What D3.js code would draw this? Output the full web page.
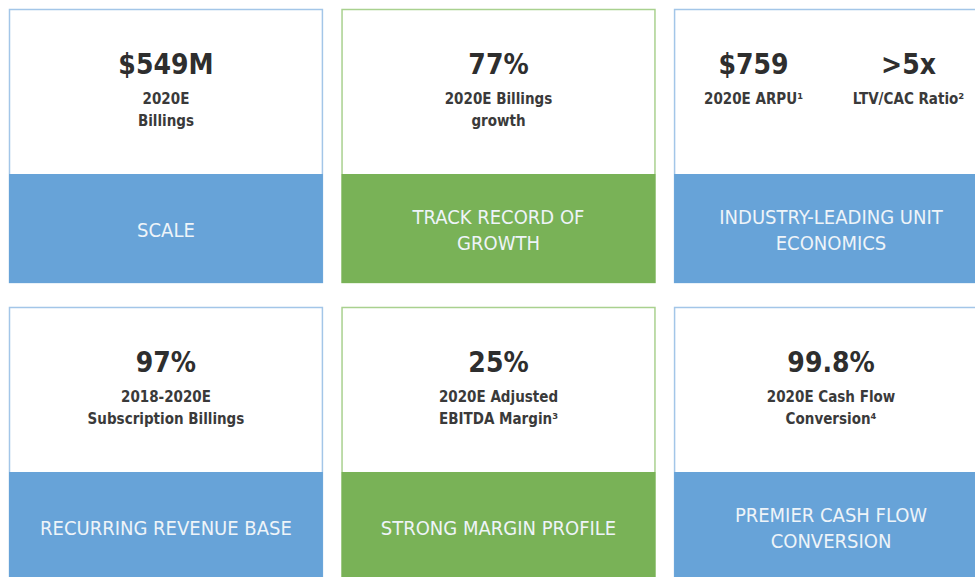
<!DOCTYPE html>
<html>
<head>
<meta charset="utf-8">
<script src="https://cdn.jsdelivr.net/npm/d3@7"></script>
<style>
  html, body { margin: 0; padding: 0; background: #fff; overflow: hidden; }
  svg { display: block; font-family: "DejaVu Sans Condensed", "DejaVu Sans", sans-serif; font-stretch: condensed; }
</style>
</head>
<body>
<div id="chart"></div>
<script>
const width = 975;
const height = 577;

// card contents, left to right, top to bottom
const bandTitles = [
  ['SCALE'],
  ['TRACK RECORD OF', 'GROWTH'],
  ['INDUSTRY-LEADING UNIT', 'ECONOMICS'],
  ['RECURRING REVENUE BASE'],
  ['STRONG MARGIN PROFILE'],
  ['PREMIER CASH FLOW', 'CONVERSION']
];
const bandKinds = ['blue', 'green', 'blue', 'blue', 'green', 'blue'];
const metricValues = [
  ['$549M'],
  ['77%'],
  ['$759', '>5x'],
  ['97%'],
  ['25%'],
  ['99.8%']
];
const metricLabels = [
  [['2020E', 'Billings']],
  [['2020E Billings', 'growth']],
  [['2020E ARPU¹'], ['LTV/CAC Ratio²']],
  [['2018-2020E', 'Subscription Billings']],
  [['2020E Adjusted', 'EBITDA Margin³']],
  [['2020E Cash Flow', 'Conversion⁴']]
];

const palette = {
  blue: {fill: '#67a3d8', border: '#a3c6e8'},
  green: {fill: '#79b257', border: '#a9d18f'}
};

const px = n => n + 'px';

const cards = bandTitles.map((title, i) => ({
  col: i % 3,
  row: Math.floor(i / 3),
  title,
  kind: bandKinds[i],
  metrics: metricValues[i].map((v, j) => ({value: v, label: metricLabels[i][j]}))
}));

const x = d3.scaleBand()
  .domain([0, 1, 2])
  .range([9, 988])
  .paddingInner(0.056);

const y = d3.scaleBand()
  .domain([0, 1])
  .range([9, 581])
  .paddingInner(0.0805);

const bandTop = 165;
const lineGap = 26;

const svg = d3.select('#chart')
  .append('svg')
  .attr('width', width)
  .attr('height', height);

const card = svg.selectAll('.card')
  .data(cards)
  .enter()
  .append('g')
    .attr('class', 'card')
    .attr('transform', d => `translate(${x(d.col)},${y(d.row)})`);

// white box with thin coloured border
card.append('rect')
  .attr('x', 0.5)
  .attr('y', 0.5)
  .attr('width', x.bandwidth() - 1)
  .attr('height', y.bandwidth() - 1)
  .attr('fill', '#fff')
  .attr('stroke', d => palette[d.kind].border)
  .attr('stroke-width', 1.5);

// coloured band
card.append('rect')
  .attr('x', 0)
  .attr('y', bandTop)
  .attr('width', x.bandwidth())
  .attr('height', y.bandwidth() - bandTop)
  .attr('fill', d => palette[d.kind].fill);

const bandMid = bandTop + (y.bandwidth() - bandTop) / 2;

card.append('text')
  .attr('text-anchor', 'middle')
  .attr('fill', '#eef4f9')
  .style('font-size', px(20))
  .selectAll('tspan')
  .data(d => d.title.map((t, i) => ({t, i, n: d.title.length})))
  .enter()
  .append('tspan')
    .attr('x', x.bandwidth() / 2)
    .attr('y', d => bandMid + (d.i - (d.n - 1) / 2) * lineGap + 8.5)
    .text(d => d.t);

// metrics (one or two per card)
const metric = card.selectAll('.metric')
  .data(d => d.metrics.map((m, j) => Object.assign({j, n: d.metrics.length}, m)))
  .enter()
  .append('g')
    .attr('class', 'metric')
    .attr('transform', d => {
      const cx = x.bandwidth() / 2 + (d.n > 1 ? (d.j - 0.5) * 155 : 0);
      return `translate(${cx},0)`;
    });

metric.append('text')
  .attr('text-anchor', 'middle')
  .attr('y', 65)
  .attr('fill', '#2e2e2e')
  .style('font-size', px(28))
  .style('font-weight', 'bold')
  .text(d => d.value);

metric.append('text')
  .attr('text-anchor', 'middle')
  .attr('fill', '#3a3a3a')
  .style('font-size', px(15))
  .style('font-weight', 'bold')
  .selectAll('tspan')
  .data(d => d.label)
  .enter()
  .append('tspan')
    .attr('x', 0)
    .attr('y', (d, i) => 95 + i * 22)
    .text(d => d);
</script>
</body>
</html>
